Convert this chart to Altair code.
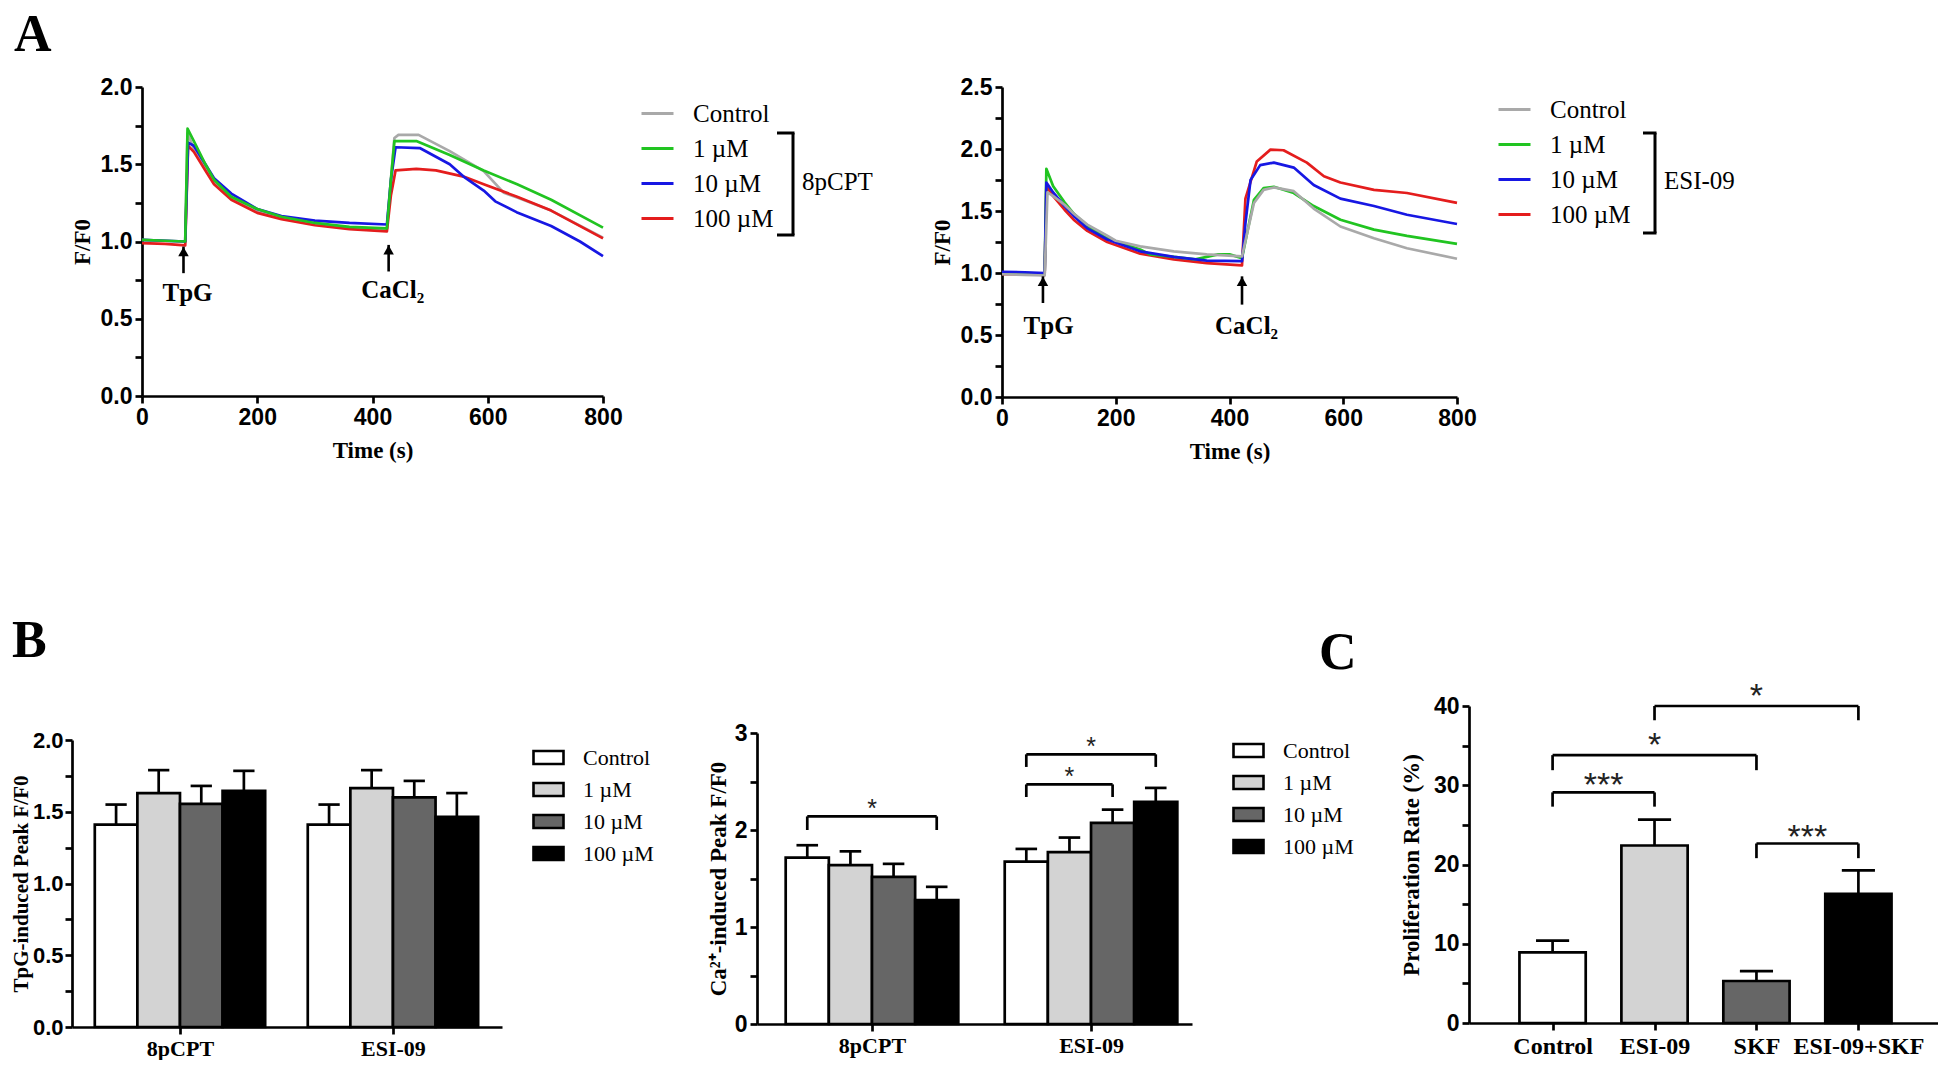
import altair as alt
import pandas as pd

W, H = 1930, 1052
SERIF = "Liberation Serif"
SANS = "Liberation Sans"

conds = ["Control", "1 µM", "10 µM", "100 µM"]
line_colors = ["#a9a9a9", "#21c421", "#1717e3", "#e41d1d"]
bar_fills = ["#ffffff", "#d3d3d3", "#666666", "#000000"]

# ---------------- A (left): 8pCPT traces ----------------
a1_ctrl_t = [0, 40, 75, 79, 90, 110, 125, 155, 200, 242, 300, 360, 425, 432, 438, 445, 480, 534, 593, 628, 651, 710, 800]
a1_ctrl_v = [1.01, 1.005, 1.0, 1.70, 1.60, 1.47, 1.38, 1.28, 1.20, 1.15, 1.11, 1.09, 1.08, 1.40, 1.67, 1.69, 1.69, 1.585, 1.455, 1.315, 1.285, 1.20, 1.025]
a1_1_t = [0, 40, 75, 79, 90, 110, 125, 155, 200, 242, 300, 360, 425, 432, 438, 476, 534, 593, 651, 710, 800]
a1_1_v = [1.01, 1.005, 1.0, 1.73, 1.65, 1.50, 1.40, 1.29, 1.21, 1.16, 1.12, 1.095, 1.085, 1.40, 1.65, 1.65, 1.56, 1.46, 1.37, 1.27, 1.09]
a1_10_t = [0, 40, 75, 80, 90, 110, 125, 155, 200, 242, 300, 360, 425, 432, 440, 482, 534, 558, 593, 613, 650, 710, 760, 800]
a1_10_v = [1.01, 1.005, 1.0, 1.64, 1.62, 1.50, 1.41, 1.31, 1.21, 1.165, 1.135, 1.12, 1.11, 1.40, 1.61, 1.605, 1.50, 1.42, 1.33, 1.26, 1.19, 1.10, 1.00, 0.905]
a1_100_t = [0, 40, 75, 80, 90, 110, 125, 155, 200, 242, 300, 360, 425, 432, 440, 476, 510, 558, 593, 651, 710, 800]
a1_100_v = [0.99, 0.985, 0.975, 1.62, 1.58, 1.46, 1.37, 1.27, 1.185, 1.145, 1.105, 1.08, 1.065, 1.30, 1.46, 1.47, 1.46, 1.42, 1.37, 1.29, 1.20, 1.02]

# ---------------- A (right): ESI-09 traces ----------------
a2_ctrl_t = [0, 40, 75, 80, 90, 110, 126, 150, 185, 200, 243, 302, 360, 422, 430, 443, 460, 478, 513, 548, 595, 654, 712, 800]
a2_ctrl_v = [0.99, 0.985, 0.98, 1.65, 1.62, 1.55, 1.48, 1.39, 1.30, 1.26, 1.215, 1.175, 1.15, 1.134, 1.30, 1.565, 1.67, 1.69, 1.66, 1.52, 1.375, 1.28, 1.20, 1.115]
a2_1_t = [0, 40, 75, 78, 90, 110, 126, 150, 185, 243, 260, 302, 340, 360, 380, 400, 422, 430, 443, 460, 478, 513, 548, 595, 654, 712, 800]
a2_1_v = [1.0, 1.0, 0.995, 1.84, 1.70, 1.57, 1.48, 1.38, 1.28, 1.19, 1.15, 1.13, 1.11, 1.13, 1.15, 1.15, 1.12, 1.30, 1.59, 1.685, 1.695, 1.645, 1.54, 1.43, 1.35, 1.30, 1.235]
a2_10_t = [0, 40, 75, 78, 90, 110, 126, 150, 185, 243, 302, 360, 422, 428, 437, 454, 478, 513, 548, 595, 654, 712, 800]
a2_10_v = [1.01, 1.005, 1.0, 1.73, 1.65, 1.54, 1.46, 1.36, 1.27, 1.175, 1.13, 1.10, 1.095, 1.40, 1.75, 1.87, 1.89, 1.85, 1.71, 1.60, 1.54, 1.47, 1.395]
a2_100_t = [0, 40, 75, 78, 90, 110, 126, 150, 185, 243, 302, 360, 422, 428, 448, 472, 495, 536, 566, 595, 654, 712, 800]
a2_100_v = [0.99, 0.99, 0.985, 1.70, 1.62, 1.51, 1.43, 1.34, 1.25, 1.156, 1.11, 1.08, 1.062, 1.60, 1.90, 1.995, 1.99, 1.89, 1.78, 1.73, 1.67, 1.645, 1.565]

# arrows (time, tail, tip) and labels (time, value)
a1_arrow_t = [72, 428]
a1_arrow_tail = [0.795, 0.806]
a1_arrow_tip = [0.967, 0.978]
a1_label_t = [79, 435]
a1_label_v = [0.665, 0.687]
a2_arrow_t = [72, 422]
a2_arrow_tail = [0.758, 0.745]
a2_arrow_tip = [0.973, 0.973]
a2_label_t = [82, 430]
a2_label_v = [0.57, 0.57]
arrow_labels = ["TpG", "CaCl₂"]

# ---------------- B ----------------
groups_b = ["8pCPT", "ESI-09"]
b1_8pcpt_mean = [1.41, 1.63, 1.555, 1.645]
b1_8pcpt_sem = [0.14, 0.16, 0.125, 0.14]
b1_esi_mean = [1.41, 1.665, 1.60, 1.465]
b1_esi_sem = [0.14, 0.125, 0.115, 0.165]

b2_8pcpt_mean = [1.716, 1.637, 1.517, 1.277]
b2_8pcpt_sem = [0.127, 0.143, 0.134, 0.137]
b2_esi_mean = [1.675, 1.771, 2.073, 2.29]
b2_esi_sem = [0.13, 0.151, 0.137, 0.144]
# (group, cond a, cond b, bracket level, leg end, star level, label)
b2_sig = [(0, 0, 3, 2.14, 2.00, 2.27, "*"),
          (1, 0, 2, 2.47, 2.34, 2.60, "*"),
          (1, 0, 3, 2.78, 2.65, 2.91, "*")]

# ---------------- C ----------------
c_groups = ["Control", "ESI-09", "SKF", "ESI-09+SKF"]
c_mean = [8.9, 22.4, 5.3, 16.3]
c_sem = [1.5, 3.25, 1.25, 2.95]
c_sig = [(0, 1, 29.1, 27.3, 30.9, "***"),
         (0, 2, 33.8, 31.9, 35.9, "*"),
         (1, 3, 40.0, 38.2, 42.2, "*"),
         (2, 3, 22.65, 20.8, 24.4, "***")]


# ================= helpers =================
def minor_values(vmax, step):
    n = int(round(vmax / step))
    return [round(i * step, 4) for i in range(n + 1)]


def left_axis(offset, vmax, minor, major, fmt, title, tpad, **kw):
    expr = (f"abs(datum.value/{major} - round(datum.value/{major})) < 0.001"
            f" ? format(datum.value, '{fmt}') : ''")
    return alt.Axis(orient="left", offset=offset, values=minor_values(vmax, minor),
                    labelExpr=expr, title=title, titlePadding=tpad, **kw)


def cat_axis(offset, names, size):
    arr = "[" + ",".join(f"'{n}'" for n in names) + "]"
    return alt.Axis(orient="bottom", offset=offset, values=list(range(len(names))),
                    labelExpr=f"{arr}[round(datum.value)]", title=None,
                    labelFont=SERIF, labelFontSize=size, labelPadding=4)


def line_panel(series, order, xsc, ysc, xax, yax, legend, arrows):
    layers = []
    cscale = alt.Scale(domain=conds, range=line_colors)
    for cond in order:
        ts, vs = series[cond]
        d = pd.DataFrame({"t": ts, "v": vs, "cond": cond})
        layers.append(alt.Chart(d).mark_line(strokeWidth=2.7, strokeJoin="round").encode(
            x=alt.X("t:Q", scale=xsc, axis=xax),
            y=alt.Y("v:Q", scale=ysc, axis=yax),
            color=alt.Color("cond:N", scale=cscale, legend=legend)))
    at, tail, tip, lt, lv = arrows
    da = pd.DataFrame({"t": at, "tail": tail, "tip": tip, "lt": lt, "lv": lv, "label": arrow_labels})
    layers.append(alt.Chart(da).mark_rule(strokeWidth=2.6, color="black").encode(
        x=alt.X("t:Q", scale=xsc, axis=xax), y=alt.Y("tail:Q", scale=ysc, axis=yax), y2="tip:Q"))
    layers.append(alt.Chart(da).mark_point(shape="triangle-up", filled=True, size=110,
                                           color="black", opacity=1, yOffset=5).encode(
        x=alt.X("t:Q", scale=xsc, axis=xax), y=alt.Y("tip:Q", scale=ysc, axis=yax)))
    layers.append(alt.Chart(da).mark_text(font=SERIF, fontWeight="bold", fontSize=25,
                                          baseline="middle", align="center", color="black").encode(
        x=alt.X("lt:Q", scale=xsc, axis=xax), y=alt.Y("lv:Q", scale=ysc, axis=yax), text="label:N"))
    return alt.layer(*layers)


def bar_table(means, sems, bw, cap):
    rows = []
    for g, (ms, ss) in enumerate(zip(means, sems)):
        for k, (m, s) in enumerate(zip(ms, ss)):
            xc = g + (k - 1.5) * bw
            rows.append(dict(cond=conds[k], mean=m, top=m + s, xc=xc,
                             x0=xc - bw / 2, x1=xc + bw / 2, c0=xc - cap / 2, c1=xc + cap / 2))
    return pd.DataFrame(rows)


def bar_layers(d, xsc, ysc, xax, yax, color):
    bars = alt.Chart(d).mark_bar(stroke="black", strokeWidth=2.7, opacity=1).encode(
        x=alt.X("x0:Q", scale=xsc, axis=xax), x2="x1:Q",
        y=alt.Y("mean:Q", scale=ysc, axis=yax), y2=alt.datum(0), color=color)
    stem = alt.Chart(d).mark_rule(strokeWidth=2.7, color="black").encode(
        x=alt.X("xc:Q", scale=xsc, axis=xax), y=alt.Y("mean:Q", scale=ysc, axis=yax), y2="top:Q")
    cap = alt.Chart(d).mark_rule(strokeWidth=2.7, color="black").encode(
        x=alt.X("c0:Q", scale=xsc, axis=xax), x2="c1:Q", y=alt.Y("top:Q", scale=ysc, axis=yax))
    return [bars, stem, cap]


def bracket_layers(d, xsc, ysc, xax, yax, fsize, dy):
    hor = alt.Chart(d).mark_rule(strokeWidth=2.7, color="black").encode(
        x=alt.X("xa:Q", scale=xsc, axis=xax), x2="xb:Q", y=alt.Y("ytop:Q", scale=ysc, axis=yax))
    la = alt.Chart(d).mark_rule(strokeWidth=2.7, color="black").encode(
        x=alt.X("xa:Q", scale=xsc, axis=xax), y=alt.Y("yleg:Q", scale=ysc, axis=yax), y2="ytop:Q")
    lb = alt.Chart(d).mark_rule(strokeWidth=2.7, color="black").encode(
        x=alt.X("xb:Q", scale=xsc, axis=xax), y=alt.Y("yleg:Q", scale=ysc, axis=yax), y2="ytop:Q")
    st = alt.Chart(d).mark_text(font=SANS, fontSize=fsize, color="#222", baseline="middle",
                                align="center", dy=dy).encode(
        x=alt.X("xm:Q", scale=xsc, axis=xax), y=alt.Y("ystar:Q", scale=ysc, axis=yax), text="label:N")
    return [hor, la, lb, st]


# ================= Panel A left =================
xA1 = alt.Scale(domain=[0, 800], range=[134, 595], nice=False, zero=False)
yA1 = alt.Scale(domain=[0, 2.0], range=[388, 79], nice=False)
axA1x = alt.Axis(orient="bottom", offset=388 - H, values=[0, 200, 400, 600, 800], format="d",
                 title="Time (s)", titlePadding=10)
axA1y = left_axis(-134, 2.0, 0.25, 0.5, ".1f", "F/F0", 6)
legA = dict(orient="none", title=None, symbolType="stroke", symbolSize=1024, symbolStrokeWidth=3,
            labelFont=SERIF, labelFontSize=25, labelColor="black", labelOffset=18,
            rowPadding=4, padding=0)
legA1 = alt.Legend(legendX=632, legendY=88, **legA)
sA1 = {"Control": (a1_ctrl_t, a1_ctrl_v), "1 µM": (a1_1_t, a1_1_v),
       "10 µM": (a1_10_t, a1_10_v), "100 µM": (a1_100_t, a1_100_v)}
pA1 = line_panel(sA1, ["Control", "100 µM", "10 µM", "1 µM"], xA1, yA1, axA1x, axA1y, legA1,
                 (a1_arrow_t, a1_arrow_tail, a1_arrow_tip, a1_label_t, a1_label_v))

# ================= Panel A right =================
xA2 = alt.Scale(domain=[0, 800], range=[994, 1449], nice=False, zero=False)
yA2 = alt.Scale(domain=[0, 2.5], range=[389, 79], nice=False)
axA2x = alt.Axis(orient="bottom", offset=389 - H, values=[0, 200, 400, 600, 800], format="d",
                 title="Time (s)", titlePadding=10)
axA2y = left_axis(-994, 2.5, 0.25, 0.5, ".1f", "F/F0", 6)
legA2 = alt.Legend(legendX=1489, legendY=84, **legA)
sA2 = {"Control": (a2_ctrl_t, a2_ctrl_v), "1 µM": (a2_1_t, a2_1_v),
       "10 µM": (a2_10_t, a2_10_v), "100 µM": (a2_100_t, a2_100_v)}
pA2 = line_panel(sA2, ["100 µM", "1 µM", "10 µM", "Control"], xA2, yA2, axA2x, axA2y, legA2,
                 (a2_arrow_t, a2_arrow_tail, a2_arrow_tip, a2_label_t, a2_label_v))

# ================= Panel B left =================
RECT = "M-1,-0.43L1,-0.43L1,0.43L-1,0.43Z"
legB = dict(orient="none", title=None, symbolType=RECT, symbolSize=900, symbolStrokeColor="black",
            symbolStrokeWidth=2.6, labelFont=SERIF, labelFontSize=22, labelColor="black",
            labelOffset=18, rowPadding=3, padding=0)
fillB = alt.Scale(domain=conds, range=bar_fills)

bw1 = 0.2
xB1 = alt.Scale(domain=[-0.507, 1.512], range=[64, 494], nice=False, zero=False)
yB1 = alt.Scale(domain=[0, 2.0], range=[1019, 732], nice=False)
axB1x = cat_axis(1019 - H, groups_b, 22)
axB1y = left_axis(-64, 2.0, 0.25, 0.5, ".1f", "TpG-induced Peak F/F0", 1,
                  labelFontSize=22, labelPadding=2, titleFontSize=21)
dB1 = bar_table([b1_8pcpt_mean, b1_esi_mean], [b1_8pcpt_sem, b1_esi_sem], bw1, bw1 / 2)
pB1 = alt.layer(*bar_layers(dB1, xB1, yB1, axB1x, axB1y,
                            alt.Color("cond:N", scale=fillB,
                                      legend=alt.Legend(legendX=524, legendY=733, **legB))))

# ================= Panel B middle =================
bw2 = 0.197
xB2 = alt.Scale(domain=[-0.525, 1.461], range=[749, 1184], nice=False, zero=False)
yB2 = alt.Scale(domain=[0, 3.0], range=[1016, 725], nice=False)
axB2x = cat_axis(1016 - H, groups_b, 22)
axB2y = left_axis(-749, 3.0, 0.5, 1.0, "d", "Ca²⁺-induced Peak F/F0", 4)
dB2 = bar_table([b2_8pcpt_mean, b2_esi_mean], [b2_8pcpt_sem, b2_esi_sem], bw2, bw2 / 2)
rows = []
for g, ka, kb, ytop, yleg, ystar, lab in b2_sig:
    xa = g + (ka - 1.5) * bw2
    xb = g + (kb - 1.5) * bw2
    rows.append(dict(xa=xa, xb=xb, xm=(xa + xb) / 2, ytop=ytop, yleg=yleg, ystar=ystar, label=lab))
sB2 = pd.DataFrame(rows)
pB2 = alt.layer(*bar_layers(dB2, xB2, yB2, axB2x, axB2y,
                            alt.Color("cond:N", scale=fillB,
                                      legend=alt.Legend(legendX=1224, legendY=726, **legB))),
                *bracket_layers(sB2, xB2, yB2, axB2x, axB2y, 25, 5))

# ================= Panel C =================
cbw = 0.65
xC = alt.Scale(domain=[-0.82, 3.83], range=[1461, 1935], nice=False, zero=False)
yC = alt.Scale(domain=[0, 40], range=[1015, 698], nice=False)
axCx = cat_axis(1015 - H, c_groups, 24)
axCy = left_axis(-1461, 40, 5, 10, "d", "Proliferation Rate (%)", 10)
dC = pd.DataFrame({"g": c_groups, "mean": c_mean, "top": [m + s for m, s in zip(c_mean, c_sem)],
                   "xc": list(range(4))})
dC["x0"] = dC["xc"] - cbw / 2
dC["x1"] = dC["xc"] + cbw / 2
dC["c0"] = dC["xc"] - cbw / 4
dC["c1"] = dC["xc"] + cbw / 4
colC = alt.Color("g:N", scale=alt.Scale(domain=c_groups, range=bar_fills), legend=None)
sC = pd.DataFrame([dict(xa=a, xb=b, xm=(a + b) / 2, ytop=yt, yleg=yl, ystar=ys, label=lab)
                   for a, b, yt, yl, ys, lab in c_sig])
pC = alt.layer(*bar_layers(dC, xC, yC, axCx, axCy, colC),
               *bracket_layers(sC, xC, yC, axCx, axCy, 34, 8))

# ================= decorations (panel letters, legend brackets) =================
one = pd.DataFrame({"a": [0]})
deco = []
for txt, x, y, base in [("A", 6, 2, "top"), ("B", 4, 649, "alphabetic"), ("C", 1311, 661, "alphabetic")]:
    deco.append(alt.Chart(one).mark_text(text=txt, font=SERIF, fontWeight="bold", fontSize=52,
                                         align="left", baseline=base, color="black").encode(
        x=alt.value(x), y=alt.value(y)))
for xv, y0, y1, xt, lab in [(785, 125, 227, 769, "8pCPT"), (1647, 125, 225, 1635, "ESI-09")]:
    deco.append(alt.Chart(one).mark_rule(strokeWidth=3, color="black").encode(
        x=alt.value(xv), y=alt.value(y0), y2=alt.value(y1)))
    for yy in (y0, y1):
        deco.append(alt.Chart(one).mark_rule(strokeWidth=3, color="black").encode(
            x=alt.value(xt), x2=alt.value(xv + 1.5), y=alt.value(yy)))
    deco.append(alt.Chart(one).mark_text(text=lab, font=SERIF, fontSize=25, align="left",
                                         baseline="middle", color="black").encode(
        x=alt.value(xv + 9), y=alt.value((y0 + y1) / 2 - 2)))

chart = alt.layer(pA1, pA2, pB1, pB2, pC, *deco).resolve_scale(
    x="independent", y="independent", color="independent"
).properties(
    width=W, height=H, padding=0, autosize=alt.AutoSizeParams(type="none"), background="white"
).configure_view(stroke=None).configure_axis(
    domainColor="black", domainWidth=2.7, tickColor="black", tickWidth=2.7, tickSize=7,
    labelColor="black", titleColor="black", grid=False, labelFont=SANS, labelFontWeight="bold",
    labelFontSize=23, titleFont=SERIF, titleFontWeight="bold", titleFontSize=23, labelPadding=3,
    labelFlush=False, labelOverlap=False
)

chart.save("out.html", embed_options={"renderer": "svg", "actions": False})
